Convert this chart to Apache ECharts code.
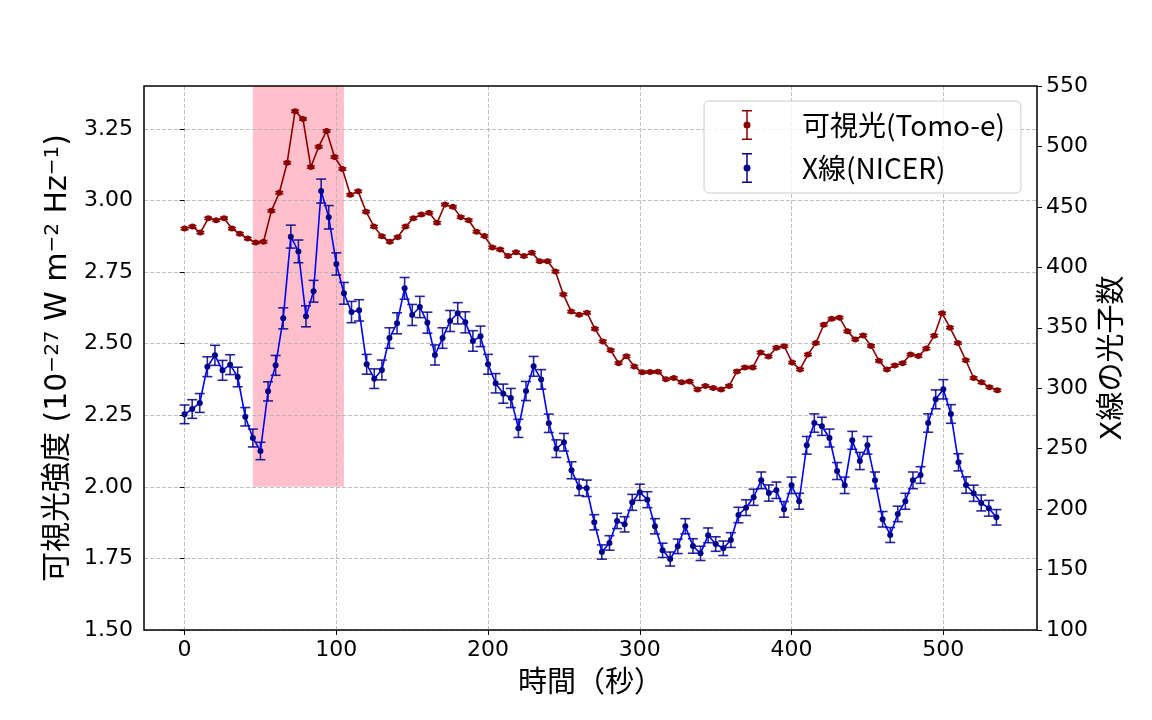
<!DOCTYPE html>
<html>
<head>
<meta charset="utf-8">
<script src="https://cdn.jsdelivr.net/npm/echarts@6.0.0/dist/echarts.min.js"></script>
<style>
html,body{margin:0;padding:0;background:#ffffff;}
#chart{width:1152px;height:720px;}
</style>
</head>
<body>
<div id="chart"></div>
<script>
// ---- Data ----
// Visible light (Tomo-e): time (s), flux (1e-27 W m^-2 Hz^-1)
const redTime = [0,5.2,10.4,15.6,20.8,26,31.2,36.4,41.6,46.8,52,57.2,62.4,67.6,72.8,78,83.2,88.4,93.6,98.8,
104,109.2,114.4,119.6,124.8,130,135.2,140.4,145.6,150.8,156,161.2,166.4,171.6,176.8,182,187.2,192.4,197.6,202.8,
208,213.2,218.4,223.6,228.8,234,239.2,244.4,249.6,254.8,260,265.2,270.4,275.6,280.8,286,291.2,296.4,301.6,306.8,
312,317.2,322.4,327.6,332.8,338,343.2,348.4,353.6,358.8,364,369.2,374.4,379.6,384.8,390,395.2,400.4,405.6,410.8,
416,421.2,426.4,431.6,436.8,442,447.2,452.4,457.6,462.8,468,473.2,478.4,483.6,488.8,494,499.2,504.4,509.6,514.8,
520,525.2,530.4,535.6];
const redFlux = [2.902,2.909,2.888,2.938,2.931,2.938,2.902,2.884,2.867,2.853,
2.856,2.964,3.027,3.132,3.312,3.285,3.117,3.188,3.243,3.152,
3.110,3.020,3.032,2.961,2.909,2.875,2.856,2.872,2.909,2.938,
2.951,2.957,2.922,2.986,2.978,2.942,2.931,2.891,2.876,2.836,
2.829,2.806,2.819,2.806,2.818,2.788,2.788,2.752,2.672,2.612,
2.601,2.608,
2.552,2.508,2.477,2.432,2.456,2.420,2.400,2.401,2.402,2.376,
2.380,2.365,2.368,2.340,2.352,2.345,2.340,2.352,2.403,2.417,
2.417,2.469,2.455,2.486,2.491,2.434,2.410,2.462,2.502,2.566,
2.587,2.591,2.543,2.515,2.529,2.492,2.440,2.410,2.424,2.432,
2.462,2.457,2.483,2.528,2.606,2.556,2.502,2.442,2.380,2.365,
2.348,2.337];
const redErr = 0.004;

// X-ray (NICER): time (s), photon counts, errors
const blueTime = [0,5,10,15,20,25,30,35,40,45,50,55,60,65,70,75,80,85,90,95,
100,105,110,115,120,125,130,135,140,145,150,155,160,165,170,175,180,185,190,195,
200,205,210,215,220,225,230,235,240,245,250,255,260,265,270,275,280,285,290,295,
300,305,310,315,320,325,330,335,340,345,350,355,360,365,370,375,380,385,390,395,
400,405,410,415,420,425,430,435,440,445,450,455,460,465,470,475,480,485,490,495,
500,505,510,515,520,525,530,535];
const blueCounts = [278.4,282.8,287.8,317.8,327.2,314.8,319.5,309.3,276.4,258.8,
248.1,297.4,318.9,357.8,425.4,413.2,359.5,380.2,463.1,441.4,
402.8,378.5,363.0,364.4,319.8,307.9,315.1,341.5,353.7,382.6,
360.6,367.2,354.2,327.5,
341.5,355.6,362.0,354.5,339.1,342.9,319.8,304.1,295.5,291.9,
266.8,297.7,318.1,307.3,271.0,250.0,255.3,232.1,218.0,217.2,
189.1,164.5,172.0,190.2,187.4,205.6,213.9,207.8,185.8,165.9,
158.7,169.2,185.8,169.5,163.4,178.3,171.1,167.6,174.4,
195.1,201.2,209.8,223.8,213.3,215.6,199.8,219.7,206.5,252.8,
271.2,268.5,258.8,231.5,219.7,256.9,239.8,252.8,223.8,191.6,
178.6,196.0,206.5,223.8,228.2,271.2,290.8,299.1,278.7,238.7,
219.9,213.1,205.1,200.7,193.2];
const blueErr = [7.7,7.7,7.8,8.2,8.3,8.2,8.2,8.1,7.6,7.4,
7.2,7.9,8.2,8.7,9.5,9.4,8.7,9.0,9.9,9.7,
9.2,9.0,8.8,8.8,8.2,8.1,8.2,8.5,8.7,9.0,
8.7,8.8,8.7,8.3,
8.5,8.7,8.8,8.7,8.5,8.5,8.2,8.0,7.9,7.9,
7.5,7.9,8.2,8.1,7.6,7.3,7.3,7.0,6.8,6.8,
6.3,5.9,6.0,6.3,6.3,6.6,6.7,6.6,6.3,5.9,
5.8,6.0,6.3,6.0,5.9,6.1,6.0,6.0,6.1,
6.4,6.5,6.7,6.9,6.7,6.8,6.5,6.8,6.6,7.3,
7.6,7.5,7.4,7.0,6.8,7.4,7.1,7.3,6.9,6.4,
6.2,6.4,6.6,6.9,6.9,7.6,7.8,8.0,7.7,7.1,
6.8,6.7,6.6,6.5,6.4];

// Highlighted interval
const spanStart = 45, spanEnd = 105, spanBottom = 2.0, spanTop = 3.4;

// Axis ticks
const xTicks = [0,100,200,300,400,500];
const leftTicks = [1.5,1.75,2.0,2.25,2.5,2.75,3.0,3.25];
const rightTicks = [100,150,200,250,300,350,400,450,500,550];

const redName = '可視光(Tomo-e)';
const blueName = 'X線(NICER)';
const RED = '#8b0000';
const BLUE_LINE = '#0000ff';
const BLUE_DARK = '#00008b';

function errorBars(id, xs, ys, es, yAxisIndex, color, capHalf, width, opacity) {
  return {
    type: 'custom', id: id, name: id, yAxisIndex: yAxisIndex, z: 5,
    silent: true, animation: false,
    encode: {x: 0, y: 1},
    data: xs.map((x, i) => [x, ys[i], Array.isArray(es) ? es[i] : es]),
    renderItem: function (params, api) {
      const x = api.value(0), y = api.value(1), e = api.value(2);
      const lo = api.coord([x, y - e]);
      const hi = api.coord([x, y + e]);
      const st = {stroke: color, lineWidth: width, opacity: opacity};
      return {type: 'group', children: [
        {type: 'line', shape: {x1: lo[0], y1: lo[1], x2: hi[0], y2: hi[1]}, style: st},
        {type: 'line', shape: {x1: lo[0] - capHalf, y1: lo[1], x2: lo[0] + capHalf, y2: lo[1]}, style: st},
        {type: 'line', shape: {x1: hi[0] - capHalf, y1: hi[1], x2: hi[0] + capHalf, y2: hi[1]}, style: st}
      ]};
    }
  };
}

const legendIcon = 'path://M0,0H10V1.5H0Z M4.25,0H5.75V30H4.25Z M0,28.5H10V30H0Z M1.5,15A3.5,3.5 0 1 1 8.5,15A3.5,3.5 0 1 1 1.5,15Z';

const chart = echarts.init(document.getElementById('chart'), null, {renderer: 'canvas'});
const tickFont = "'DejaVu Sans', 'Noto Sans CJK JP', sans-serif";
const cjkFont = "'Noto Sans CJK JP', 'DejaVu Sans', sans-serif";

chart.setOption({
  animation: false,
  backgroundColor: '#ffffff',
  grid: {left: 144, right: 115, top: 86, bottom: 90, show: true, z: 4,
         borderColor: '#000000', borderWidth: 1.5, backgroundColor: 'transparent'},
  legend: {
    orient: 'vertical', left: 704, top: 101, z: 10,
    itemWidth: 10, itemHeight: 30, itemGap: 13,
    padding: [9, 16, 10, 38],
    backgroundColor: 'rgba(255,255,255,0.8)',
    borderColor: '#cccccc', borderWidth: 1, borderRadius: 5,
    selectedMode: false,
    textStyle: {fontSize: 28, fontFamily: cjkFont, color: '#000000', padding: [0, 0, 0, 45]},
    data: [{name: redName, icon: legendIcon}, {name: blueName, icon: legendIcon}]
  },
  xAxis: {
    type: 'value', min: -26.75, max: 561.75, z: 3,
    axisLine: {show: false},
    axisTick: {show: true, length: 5, customValues: xTicks, lineStyle: {color: '#000', width: 1}},
    axisLabel: {fontSize: 22, fontFamily: tickFont, color: '#000', margin: 9, customValues: xTicks,
      formatter: function (v) { return xTicks.indexOf(v) >= 0 ? String(v) : ''; }},
    splitLine: {show: true, lineStyle: {color: '#b0b0b0', width: 0.8, type: [4, 2]}},
    name: '時間（秒）', nameLocation: 'middle', nameGap: 36,
    nameTextStyle: {fontSize: 29, fontFamily: cjkFont, color: '#000'}
  },
  yAxis: [
    {
      type: 'value', min: 1.5, max: 3.4, interval: 0.25, position: 'left', z: 3,
      axisLine: {show: false},
      axisTick: {show: true, length: 5, customValues: leftTicks, lineStyle: {color: '#000', width: 1}},
      axisLabel: {fontSize: 22, fontFamily: tickFont, color: '#000', margin: 11, customValues: leftTicks,
        formatter: function (v) {
          return leftTicks.some(t => Math.abs(t - v) < 1e-6) ? v.toFixed(2) : '';
        }},
      splitLine: {show: true, lineStyle: {color: '#b0b0b0', width: 0.8, type: [4, 2]}},
      name: '可視光強度 (10{s|−27} W m{s|−2} Hz{s|−1})',
      nameLocation: 'middle', nameRotate: 90, nameGap: 64,
      nameTextStyle: {fontSize: 30, fontFamily: tickFont, color: '#000',
        rich: {s: {fontSize: 20, fontFamily: tickFont, color: '#000', verticalAlign: 'top', lineHeight: 18}}}
    },
    {
      type: 'value', min: 100, max: 550, interval: 50, position: 'right', z: 3,
      axisLine: {show: false},
      axisTick: {show: true, length: 5, customValues: rightTicks, lineStyle: {color: '#000', width: 1}},
      axisLabel: {fontSize: 22, fontFamily: tickFont, color: '#000', margin: 9, customValues: rightTicks},
      splitLine: {show: false},
      name: 'X線の光子数', nameLocation: 'middle', nameRotate: 90, nameGap: 62,
      nameTextStyle: {fontSize: 29, fontFamily: tickFont, color: '#000'}
    }
  ],
  series: [
    {
      type: 'custom', id: 'span', name: 'span', z: 1, silent: true,
      encode: {x: [0, 1], y: [2, 3]},
      data: [[spanStart, spanEnd, spanBottom, spanTop]],
      renderItem: function (params, api) {
        const p0 = api.coord([api.value(0), api.value(3)]);
        const p1 = api.coord([api.value(1), api.value(2)]);
        return {type: 'rect', shape: {x: p0[0], y: p0[1], width: p1[0] - p0[0], height: p1[1] - p0[1]},
                style: {fill: '#ffc0cb'}};
      }
    },
    errorBars('redErr', redTime, redFlux, redErr, 0, RED, 4, 1.5, 1),
    {
      type: 'line', name: redName, yAxisIndex: 0, z: 6,
      data: redTime.map((t, i) => [t, redFlux[i]]),
      symbol: 'circle', symbolSize: 6, showSymbol: true,
      lineStyle: {color: RED, width: 1.6},
      itemStyle: {color: RED},
      emphasis: {disabled: true}
    },
    errorBars('blueErr', blueTime, blueCounts, blueErr, 1, BLUE_DARK, 5, 1.6, 0.85),
    {
      type: 'line', name: blueName, yAxisIndex: 1, z: 6,
      data: blueTime.map((t, i) => [t, blueCounts[i]]),
      symbol: 'circle', symbolSize: 6, showSymbol: true,
      lineStyle: {color: BLUE_LINE, width: 1.6},
      itemStyle: {color: BLUE_DARK},
      emphasis: {disabled: true}
    }
  ]
});
</script>
</body>
</html>
